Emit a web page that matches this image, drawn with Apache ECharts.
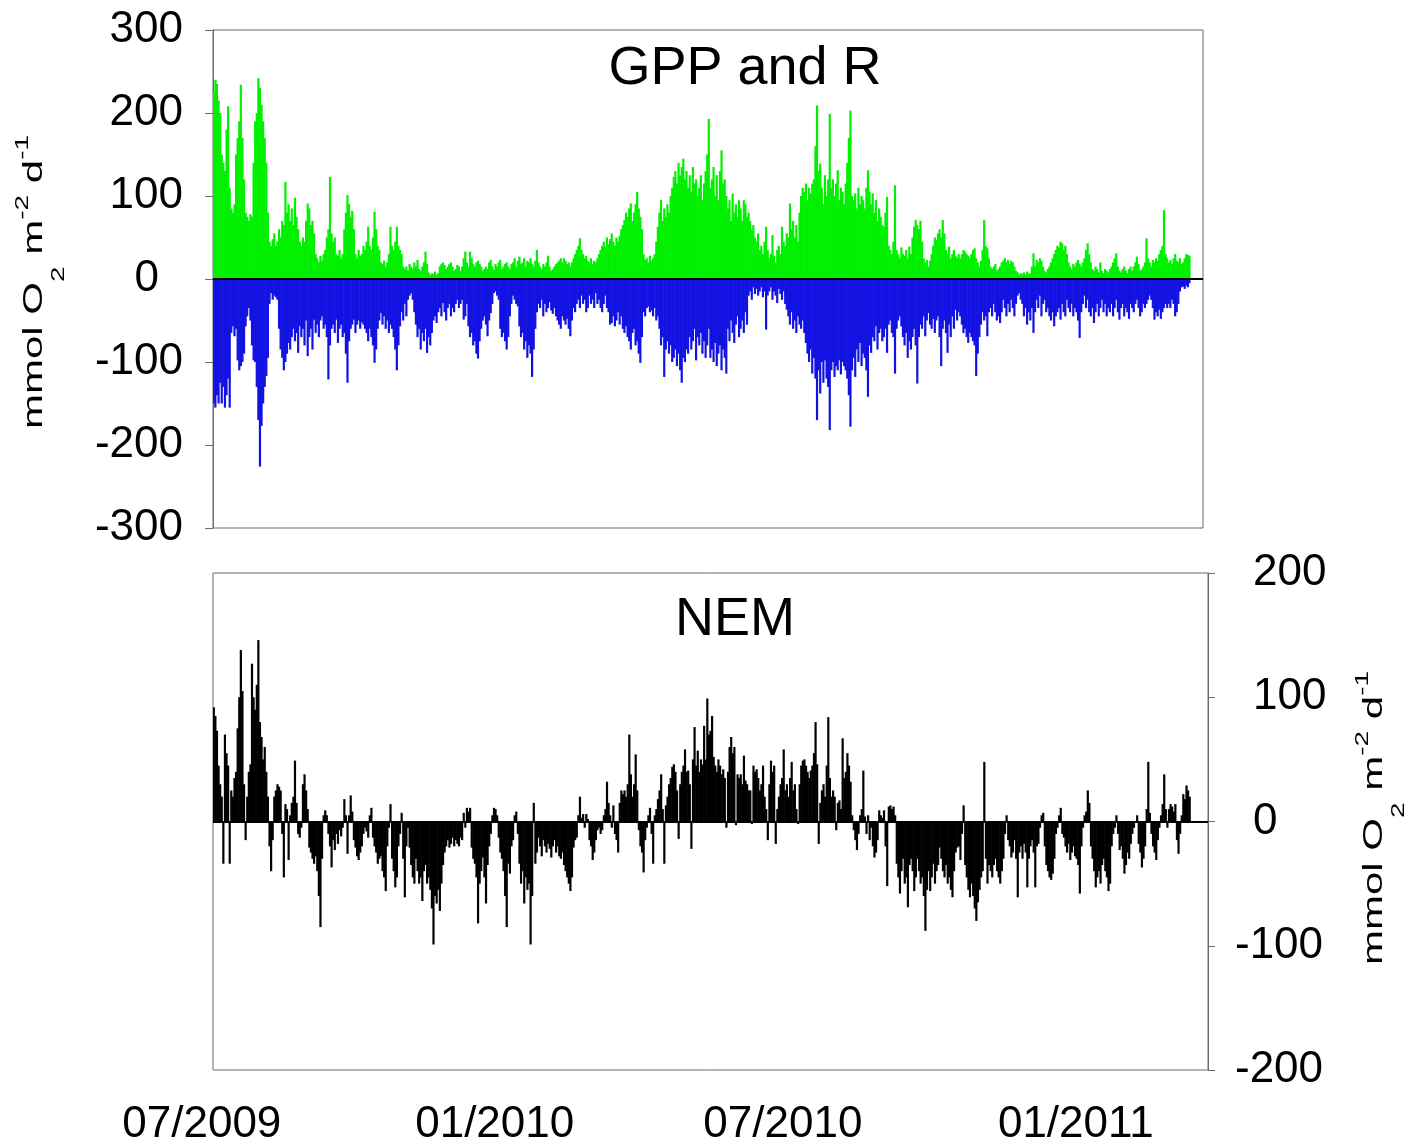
<!DOCTYPE html>
<html>
<head>
<meta charset="utf-8">
<script src="https://cdn.jsdelivr.net/npm/echarts@6/dist/echarts.min.js"></script>
<style>
html, body { margin: 0; padding: 0; background: #fff; }
#main { width: 1408px; height: 1144px; }
</style>
</head>
<body>
<div id="main"></div>
<script>
// daily values, first day 2009-07-01
var startDate = Date.UTC(2009, 6, 1);

// GPP, mmol O2 m-2 d-1
var gpp = [
  225, 240, 235, 215, 200, 150, 140, 130, 180, 208,
  110, 85, 80, 90, 150, 170, 190, 234, 170, 120,
  80, 75, 70, 78, 75, 140, 190, 200, 242, 230,
  210, 190, 170, 140, 80, 45, 40, 48, 55, 40,
  45, 60, 50, 70, 65, 117, 80, 90, 70, 85,
  65, 98, 75, 60, 45, 40, 50, 45, 70, 91,
  85, 65, 70, 55, 30, 25, 20, 28, 22, 30,
  35, 50, 60, 123, 55, 45, 50, 30, 28, 35,
  25, 30, 60, 80, 101, 90, 75, 82, 60, 30,
  25, 35, 28, 30, 40, 35, 45, 63, 40, 35,
  50, 81, 60, 40, 35, 20, 18, 22, 15, 20,
  30, 63, 40, 35, 45, 63, 40, 35, 30, 15,
  12, 15, 10, 18, 15, 12, 20, 15, 23, 12,
  10, 15, 20, 33, 18, 8, 5, 7, 6, 9,
  5, 7, 15, 18, 20, 17, 12, 15, 18, 20,
  15, 10, 12, 17, 15, 10, 15, 25, 33, 20,
  15, 33, 25, 18, 15, 20, 22, 18, 15, 10,
  12, 15, 12, 20, 23, 15, 11, 18, 15, 20,
  23, 12, 15, 18, 20, 15, 12, 18, 20, 25,
  15, 22, 27, 18, 20, 25, 15, 22, 20, 25,
  18, 15, 22, 35, 20, 15, 12, 18, 15, 20,
  28, 15, 10, 12, 15, 18, 20, 22, 25, 20,
  25, 22, 18, 20, 15, 20, 25, 30, 35, 40,
  49, 35, 30, 25, 28, 22, 20, 25, 18, 22,
  20, 25, 30, 35, 40, 45, 39, 50, 42, 48,
  55, 45, 40, 50, 45, 52, 60, 65, 71, 80,
  75, 85, 91, 70, 80, 90, 105, 85, 75, 60,
  30, 23, 25, 20, 28, 22, 25, 30, 45, 63,
  80, 95, 70, 85, 75, 90, 80, 100, 110, 123,
  130, 115, 140, 125, 135, 145, 120, 130, 110, 125,
  105, 135, 115, 120, 100, 110, 125, 95, 115, 130,
  150, 193, 110, 120, 135, 100, 125, 95, 130, 155,
  115, 120, 100, 85, 95, 70, 103, 80, 90, 75,
  95, 85, 70, 95, 90, 75, 80, 70, 60, 65,
  50, 45, 55, 35, 40, 30, 45, 63, 35, 25,
  30, 53, 28, 20, 35, 40, 30, 63, 45, 40,
  55, 50, 91, 60, 70, 50, 65, 45, 80, 100,
  110, 105, 115, 95, 110, 103, 115, 120, 160, 209,
  130, 139, 110, 90, 125, 100, 120, 199, 110, 120,
  100, 115, 131, 95, 110, 105, 90, 115, 140, 170,
  203, 100, 95, 103, 85, 110, 90, 100, 95, 85,
  110, 131, 105, 90, 103, 80, 95, 70, 85, 75,
  65, 63, 80, 99, 40, 35, 30, 45, 113, 35,
  30, 25, 38, 30, 28, 35, 25, 39, 30, 50,
  63, 71, 65, 60, 70, 45, 25, 20, 23, 15,
  22, 30, 40, 50, 47, 55, 60, 50, 71, 55,
  35, 30, 39, 25, 30, 35, 28, 25, 30, 25,
  30, 35, 33, 30, 28, 25, 30, 35, 37, 25,
  20, 15, 22, 35, 71, 40, 37, 25, 15, 12,
  15, 18, 10, 12, 15, 20, 22, 25, 20, 23,
  18, 22, 20, 15, 10, 8, 5, 7, 6, 8,
  5, 9, 6, 7, 15, 31, 15, 23, 20, 25,
  22, 15, 10, 8, 12, 15, 20, 25, 30, 35,
  40, 38, 45, 43, 35, 40, 30, 20, 15, 12,
  18, 15, 20, 23, 18, 15, 20, 25, 35, 43,
  30, 20, 12, 10, 15, 12, 8, 20, 10, 7,
  12, 10, 8, 12, 15, 20, 25, 31, 15, 10,
  8, 12, 15, 10, 7, 12, 15, 10, 15, 20,
  27, 18, 10, 12, 15, 20, 49, 25, 20, 15,
  23, 20, 25, 22, 30, 35, 40, 83, 30, 25,
  20, 23, 18, 25, 30, 22, 20, 25, 18, 20,
  25, 30, 29, 28
];

// R as positive magnitudes, drawn below zero
var resp = [
  150, 155, 140, 150, 125, 150, 130, 155, 140, 120,
  155, 65, 57, 69, 60, 98, 110, 105, 100, 90,
  57, 45, 35, 50, 80, 98, 100, 130, 170, 226,
  177, 150, 130, 117, 95, 30, 17, 25, 20, 22,
  25, 60, 85, 95, 110, 100, 90, 77, 85, 70,
  60, 75, 65, 89, 57, 70, 60, 80, 50, 93,
  70, 60, 85, 49, 65, 55, 70, 50, 45, 60,
  55, 70, 121, 80, 60, 55, 65, 49, 77, 60,
  55, 70, 65, 90, 125, 75, 60, 55, 49, 65,
  55, 50, 60, 52, 55, 60, 65, 75, 60, 70,
  80, 101, 85, 60, 50, 41, 55, 45, 60, 50,
  65, 55, 60, 70, 85, 110, 80, 57, 40, 50,
  30, 45, 25, 20, 17, 25, 40, 55, 70, 60,
  85, 65, 75, 60, 89, 70, 80, 65, 50, 45,
  53, 40, 35, 45, 29, 40, 50, 35, 30, 45,
  35, 40, 30, 25, 35, 30, 25, 49, 45, 30,
  57, 70, 65, 80, 75, 90, 96, 75, 60, 50,
  45, 55, 69, 50, 41, 30, 17, 15, 20, 25,
  60, 70, 65, 75, 85, 70, 45, 30, 20, 25,
  30, 33, 57, 70, 65, 85, 75, 95, 80, 90,
  118, 85, 60, 40, 30, 35, 25, 45, 30, 40,
  35, 28, 38, 42, 35, 45, 50, 55, 60, 45,
  50, 55, 48, 60, 69, 50, 35, 40, 30, 25,
  35, 20, 30, 25, 40, 35, 20, 30, 25, 35,
  17, 30, 25, 35, 40, 30, 20, 35, 40, 55,
  53, 45, 57, 50, 40, 55, 45, 60, 65, 57,
  70, 75, 85, 65, 60, 80, 75, 90, 101, 70,
  40, 45, 35, 33, 40, 38, 45, 35, 50, 45,
  60, 80, 70, 118, 85, 75, 90, 80, 100, 95,
  85, 105, 90, 110, 125, 95, 100, 85, 90, 70,
  85, 75, 60, 98, 70, 80, 65, 90, 75, 95,
  80, 60, 95, 85, 100, 77, 105, 90, 80, 110,
  85, 95, 114, 60, 75, 50, 65, 77, 55, 45,
  70, 60, 50, 65, 40, 55, 20, 15, 25, 10,
  18, 12, 20, 15, 10, 22, 15, 61, 20, 15,
  10, 25, 15, 20, 29, 12, 18, 25, 15, 30,
  37, 45, 55, 40, 60, 50, 65, 45, 55, 60,
  50, 65, 77, 90, 100, 85, 114, 95, 120, 170,
  110, 138, 100, 125, 98, 120, 130, 182, 110, 100,
  118, 105, 110, 98, 115, 100, 105, 110, 120, 140,
  178, 110, 95, 118, 85, 100, 77, 105, 90, 95,
  110, 142, 80, 89, 70, 75, 57, 85, 65, 60,
  75, 70, 60, 89, 55, 50, 65, 70, 114, 60,
  50, 45, 57, 70, 80, 65, 95, 75, 85, 70,
  60, 80, 126, 70, 55, 60, 45, 69, 50, 41,
  55, 60, 48, 65, 50, 45, 70, 105, 60, 50,
  65, 89, 55, 70, 45, 60, 37, 50, 40, 45,
  55, 65, 60, 70, 77, 65, 70, 75, 80, 117,
  90, 70, 55, 40, 50, 45, 69, 40, 35, 45,
  30, 40, 50, 45, 53, 40, 25, 35, 45, 30,
  40, 25, 35, 45, 30, 20, 17, 25, 30, 45,
  35, 55, 40, 50, 35, 65, 40, 25, 35, 20,
  45, 30, 25, 40, 35, 45, 50, 40, 57, 45,
  40, 35, 49, 30, 40, 45, 25, 35, 40, 30,
  45, 35, 40, 50, 71, 40, 30, 20, 35, 25,
  40, 45, 35, 53, 40, 30, 45, 35, 25, 40,
  30, 45, 35, 40, 30, 45, 35, 25, 40, 49,
  35, 30, 45, 35, 40, 48, 30, 35, 40, 30,
  25, 35, 45, 40, 30, 35, 30, 25, 20, 25,
  35, 49, 40, 45, 37, 48, 40, 35, 30, 35,
  30, 35, 25, 30, 45, 40, 30, 15, 10, 9,
  12, 8, 10, 5
];

// NEM
var nem = [
  92, 85, 73, 45, 30, 20, -34, 70, 55, 45,
  -34, 25, 20, 35, 40, 75, 100, 138, 105, 30,
  -15, 20, 40, 46, 127, 100, 90, 110, 146, 80,
  68, 50, 60, 40, 20, -20, -40, -15, 20, 25,
  30, 28, 25, -10, -45, 14, 10, -31, 5, 15,
  20, 49, 15, -10, -13, -5, 30, 38, 25, 10,
  -21, -25, -30, -34, -28, -40, -60, -85, -30, 5,
  9, 5, -10, -20, -37, -15, -23, -10, -18, -7,
  -12, -5, 18, 5, -26, 5, 21, 8, -15, -21,
  -28, -31, -25, -20, -10, -5, -8, -13, 5, 11,
  -13, -20, -25, -34, -30, -28, -40, -45, -56, -20,
  -5, 14, -30, -40, -53, -45, -20, -10, 7, -30,
  -61, -20, -5, -21, -35, -45, -50, -30, -40, -50,
  -45, -64, -40, -35, -50, -45, -55, -70, -99, -60,
  -66, -55, -72, -50, -35, -25, -20, -15, -21, -18,
  -13, -20, -15, -18, -20, -13, -15, 7, -5, 11,
  8, 11, -21, -30, -34, -45, -82, -50, -40, -29,
  -45, -66, -35, -20, -10, 5, 11, 10, 5, -13,
  -25, -30, -40, -60, -85, -34, -42, -20, -15, 5,
  8, -10, -34, -50, -40, -66, -45, -55, -50, -99,
  -60, 15, -34, -25, -13, -20, -28, -15, -20, -25,
  -18, -22, -29, -20, -15, -25, -20, -28, -30, -25,
  -35, -40, -45, -50, -56, -45, -21, -15, -13, 5,
  20, 3, 6, -5, 6, 2, -15, -20, -31, -25,
  -15, -7, -5, -10, -7, 5, 10, 32, 15, 5,
  -5, 13, -10, -15, -25, 15, 25, 22, 25, 20,
  30, 70, 38, 20, 30, 54, 25, -7, -20, -25,
  -41, -15, -5, 5, 11, -10, -34, 5, 10, 18,
  25, 38, 10, -34, 13, 20, 30, 35, 44, 46,
  40, 25, -14, 30, 40, 45, 58, 40, 41, 30,
  -22, 50, 76, 45, 57, 40, 50, 46, 77, 50,
  99, 70, 73, 85, 52, 45, 40, 50, 45, 38,
  42, 35, -5, 40, 60, 68, 55, 60, -3, 38,
  35, 38, 30, 53, 33, 30, 25, 25, -2, 45,
  40, 42, 35, 25, 30, 45, 20, 10, -15, 30,
  49, 40, 45, -18, 10, 20, 30, 35, 58, 25,
  30, 20, 35, 48, 25, 30, 10, -2, 30, 45,
  49, 50, 45, 40, 35, 41, 45, 55, 80, 46,
  -18, 15, 25, 30, 20, 45, 84, 35, 20, 25,
  20, -7, 15, 17, 10, 67, 35, 40, 55, 45,
  32, 5, -7, -15, -23, -10, 5, 10, 41, 4,
  -10, 5, -15, -5, -20, -29, -25, -15, 9, 5,
  3, 9, -20, -52, 12, 13, 10, 12, 5, -34,
  -45, -58, -40, -30, -50, -45, -69, -35, -30, -40,
  -56, -45, -30, -40, -50, -45, -60, -88, -55, -40,
  -56, -45, -34, -50, -40, -35, -21, -30, -40, -45,
  -35, -50, -45, -55, -61, -40, -25, -21, -20, -31,
  -10, 13, -35, -45, -55, -61, -50, -60, -70, -80,
  -65, -55, -45, -40, 48, -30, -50, -35, -40, -45,
  -35, -30, -40, -45, -50, -40, -30, -10, 5, -15,
  -20, -29, -25, -15, -30, -61, -25, -20, -30, -18,
  -25, -53, -30, -20, -15, -25, -53, -20, -18, -5,
  5, 7, -20, -35, -40, -45, -47, -42, -30, -10,
  -5, 5, 11, -10, -13, -20, -25, -18, -31, -25,
  -20, -28, -30, -35, -58, -20, -5, 5, 8, 25,
  15, -20, -30, -40, -53, -45, -40, -50, -35, -30,
  -40, -45, -56, -50, -20, -10, -5, 5, -10, -23,
  -20, -30, -42, -35, -25, -30, -18, -10, -5, 0,
  5, -18, -25, -37, -30, -20, 10, 48, 7, -10,
  -20, -25, -31, -15, -5, 5, 14, 38, 10, -5,
  10, 14, 12, 8, 14, -15, -26, -10, 5, 22,
  18, 29, 25, 20
];

// axis span in days (bottom axis runs a few days longer)
var topDays = 622;
var bottomDays = 625;

function buildDays(n) {
  var out = [];
  for (var i = 0; i < n; i++) {
    out.push(new Date(startDate + i * 86400000).toISOString().slice(0, 10));
  }
  return out;
}
var daysTop = buildDays(topDays);
var daysBottom = buildDays(bottomDays);

// ticks every two months, labels every six
function isTickDay(idx, v) {
  return v.slice(8) === '01' && parseInt(v.slice(5, 7), 10) % 2 === 1;
}
function isLabelDay(idx, v) {
  var m = v.slice(5, 7);
  return v.slice(8) === '01' && (m === '01' || m === '07');
}

var font = 'Liberation Sans';
var axisGray = '#6b6b6b';
var barW = 2.2;

// unit label: subscript pushed down, superscripts raised
var unitText = '{a|mmol O}{b|2}{a| m}{c|-2}{a| d}{c|-1}';
var unitRich = {
  a: { fontSize: 42, fontFamily: font, fill: '#000', lineHeight: 112 },
  b: { fontSize: 28, fontFamily: font, fill: '#000', lineHeight: 28, verticalAlign: 'bottom', padding: [0, 0, 5, 0] },
  c: { fontSize: 28, fontFamily: font, fill: '#000', verticalAlign: 'top', padding: [26, 0, 0, 0] }
};

var chart = echarts.init(document.getElementById('main'));

var option = {
  animation: false,
  backgroundColor: '#fff',
  grid: [
    {
      left: 213, top: 30, width: 990, height: 498, outerBoundsMode: 'none',
      show: true, borderColor: axisGray, borderWidth: 1
    },
    {
      left: 213, top: 573, width: 995, height: 497, outerBoundsMode: 'none',
      show: true, borderColor: axisGray, borderWidth: 1
    }
  ],
  xAxis: [
    {
      type: 'category', gridIndex: 0, data: daysTop,
      axisLine: { lineStyle: { color: axisGray } },
      axisTick: { interval: isTickDay, length: 6, lineStyle: { color: axisGray } },
      axisLabel: { show: false }
    },
    {
      type: 'category', gridIndex: 1, data: daysBottom,
      axisLine: { lineStyle: { color: axisGray } },
      axisTick: { interval: isTickDay, length: 8, lineStyle: { color: axisGray } },
      axisLabel: {
        interval: isLabelDay, fontSize: 44, fontFamily: font, color: '#000', margin: 33,
        formatter: function (v) { return '{l|' + v.slice(5, 7) + '/' + v.slice(0, 4) + '}'; },
        rich: { l: { fontSize: 44, fontFamily: font, color: '#000', padding: [0, 24, 0, 0] } }
      }
    }
  ],
  yAxis: [
    {
      type: 'value', gridIndex: 0, min: -300, max: 300, interval: 100,
      axisLine: { show: true, lineStyle: { color: axisGray } },
      axisTick: { show: true, length: 8, lineStyle: { color: axisGray } },
      splitLine: { show: false },
      axisLabel: {
        margin: 30, fontSize: 44, fontFamily: font, color: '#000',
        formatter: function (v) { return v === 0 ? '{z|0}' : '{n|' + v + '}'; },
        rich: {
          n: { fontSize: 44, fontFamily: font, color: '#000' },
          z: { fontSize: 44, fontFamily: font, color: '#000', padding: [0, 24, 0, 0] }
        }
      }
    },
    {
      type: 'value', gridIndex: 1, position: 'right', min: -200, max: 200, interval: 100,
      axisLine: { show: true, lineStyle: { color: axisGray } },
      axisTick: { show: true, length: 7, lineStyle: { color: axisGray } },
      splitLine: { show: false },
      axisLabel: {
        margin: 27, fontSize: 44, fontFamily: font, color: '#000',
        formatter: function (v) { return v < 0 ? '{n|' + v + '}' : '{p|' + v + '}'; },
        rich: {
          n: { fontSize: 44, fontFamily: font, color: '#000' },
          p: { fontSize: 44, fontFamily: font, color: '#000', padding: [0, 0, 0, 18] }
        }
      }
    }
  ],
  series: [
    {
      name: 'GPP', type: 'bar', xAxisIndex: 0, yAxisIndex: 0,
      data: gpp, barWidth: barW, barGap: '-100%',
      itemStyle: { color: '#00f000' }
    },
    {
      name: 'R', type: 'bar', xAxisIndex: 0, yAxisIndex: 0,
      data: resp.map(function (v) { return -v; }),
      barWidth: barW, barGap: '-100%',
      itemStyle: { color: '#1212e2' },
      markLine: {
        silent: true, symbol: ['none', 'none'], label: { show: false },
        lineStyle: { color: '#000', width: 2, type: 'solid' },
        data: [{ yAxis: 0 }]
      }
    },
    {
      name: 'NEM', type: 'bar', xAxisIndex: 1, yAxisIndex: 1,
      data: nem, barWidth: barW,
      itemStyle: { color: '#000' },
      markLine: {
        silent: true, symbol: ['none', 'none'], label: { show: false },
        lineStyle: { color: '#000', width: 2, type: 'solid' },
        data: [{ yAxis: 0 }]
      }
    }
  ],
  graphic: [
    {
      type: 'text', x: 745, y: 69,
      style: { text: 'GPP and R', fontSize: 54, fontFamily: font, fill: '#000', align: 'center', verticalAlign: 'middle' }
    },
    {
      type: 'text', x: 735, y: 620,
      style: { text: 'NEM', fontSize: 54, fontFamily: font, fill: '#000', align: 'center', verticalAlign: 'middle' }
    },
    {
      type: 'text', x: 34, y: 282, rotation: Math.PI / 2, scaleY: 0.67,
      style: { text: unitText, rich: unitRich, align: 'center', verticalAlign: 'middle' }
    },
    {
      type: 'text', x: 1374, y: 818, rotation: Math.PI / 2, scaleY: 0.67,
      style: { text: unitText, rich: unitRich, align: 'center', verticalAlign: 'middle' }
    }
  ]
};

chart.setOption(option);
</script>
</body>
</html>
